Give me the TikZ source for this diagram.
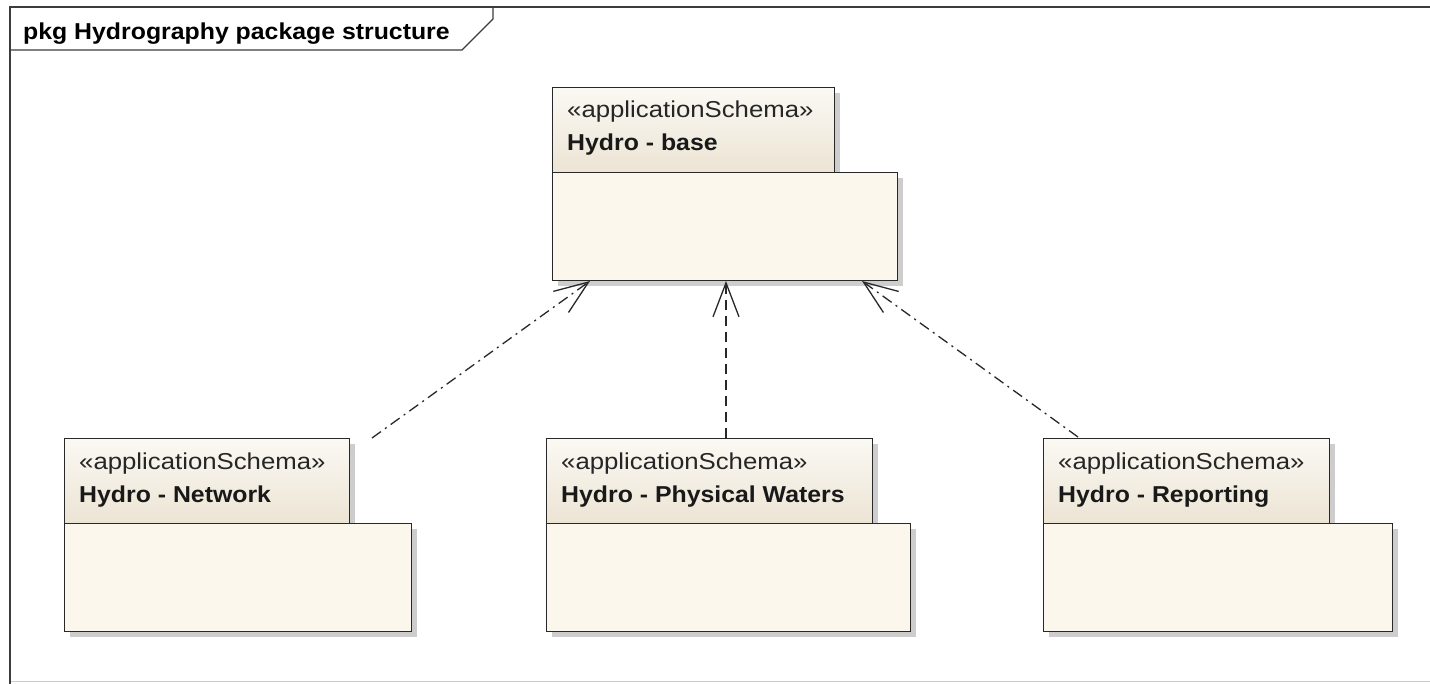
\documentclass[tikz,border=0pt]{standalone}
\usepackage{fontspec}
\setmainfont{Liberation Sans}
\newfontfamily\stereofont[FakeStretch=1.12]{Liberation Sans}
\newfontfamily\namefont[FakeStretch=1.08]{Liberation Sans Bold}
\usetikzlibrary{arrows.meta}
\definecolor{framec}{RGB}{60,60,60}
\definecolor{tabtop}{RGB}{251,249,244}
\definecolor{tabbot}{RGB}{236,228,212}
\definecolor{bodyc}{RGB}{252,247,236}
\definecolor{shadowc}{RGB}{205,205,205}
\definecolor{linec}{RGB}{40,40,40}
\tikzset{
  tabbox/.style={draw=linec, line width=1.2pt, top color=tabtop, bottom color=tabbot, inner sep=0pt, anchor=north west},
  bodybox/.style={draw=linec, line width=1.2pt, fill=bodyc, inner sep=0pt, anchor=north west},
  shade box/.style={fill=shadowc},
  stereo/.style={anchor=base west, inner sep=0pt, font=\stereofont\fontsize{23}{26}\selectfont, text=black!85},
  pkgname/.style={anchor=base west, inner sep=0pt, font=\namefont\fontsize{23}{26}\selectfont, text=black!90},
  dep/.style={draw=linec, line width=1.3pt, -{Straight Barb[length=34pt,width=26pt,line width=1.3pt]}},
  dashdot/.style={dash pattern=on 11pt off 5pt on 2pt off 5pt},
  dashes/.style={dash pattern=on 10pt off 6pt}
}
\newcommand\umlpackage[6]{%
  % #1 name, #2 x, #3 y, #4 tab width, #5 body width, #6 label
  \fill[shade box] (#2+6,#3+6) rectangle (#2+#4+6,#3+85);
  \fill[shade box] (#2+6,#3+91) rectangle (#2+#5+6,#3+199);
  \node[tabbox, minimum width=#4pt, minimum height=85pt] (#1tab) at (#2,#3) {};
  \node[bodybox, minimum width=#5pt, minimum height=108pt] (#1) at (#2,#3+85) {};
  \node[stereo] (#1st) at (#2+15,#3+31) {«applicationSchema»};
  \node[pkgname] (#1nm) at (#2+15,#3+64) {#6};
}
\begin{document}
\begin{tikzpicture}[x=1pt,y=-1pt]
\useasboundingbox[fill=white] (0,0) rectangle (1430,684);
% diagram frame
\draw[draw=black!20, line width=1pt] (10,681) -- (1430,681);
\draw[draw=framec, line width=1.4pt] (1430,7) -- (10,7) -- (10,684);
\draw[draw=framec, line width=1.2pt] (10,50) -- (462,50) -- (493,19) -- (493,7);
\node[anchor=base west, inner sep=0pt, font=\namefont\fontsize{23}{26}\selectfont] (title) at (23,40) {pkg Hydrography package structure};
% packages
\umlpackage{base}{552}{87}{282}{345}{Hydro - base}
\umlpackage{net}{64}{438}{285}{347}{Hydro - Network}
\umlpackage{phys}{546}{438}{326}{364}{Hydro - Physical Waters}
\umlpackage{rep}{1043}{438}{286}{349}{Hydro - Reporting}
% connector end points
\coordinate (netout) at (372,438);
\coordinate (baseinL) at (590,281);
\coordinate (physout) at (726,438);
\coordinate (baseinM) at (726,281);
\coordinate (repout) at (1078,437);
\coordinate (baseinR) at (862,281);
\draw[dep, dashdot] (netout) -- (baseinL);
\draw[dep, dashes] (physout) -- (baseinM);
\draw[dep, dashdot] (repout) -- (baseinR);
\end{tikzpicture}
\end{document}
